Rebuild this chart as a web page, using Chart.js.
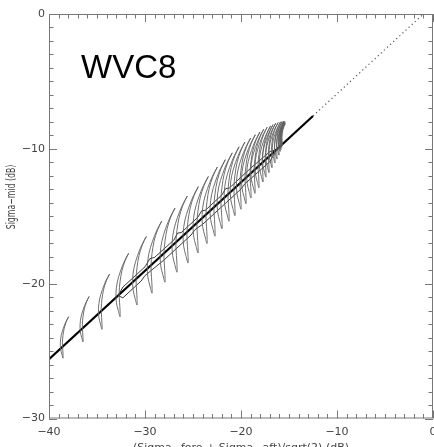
<!DOCTYPE html>
<html>
<head>
<meta charset="UTF-8">
<title>WVC8</title>
<script src="https://cdn.jsdelivr.net/npm/chart.js"></script>
<style>
  html, body { margin: 0; padding: 0; background: #fff; }
  #wrap { width: 434px; height: 447px; }
</style>
</head>
<body>
<div id="wrap"><canvas id="gmf"></canvas></div>
<script>
// axis ranges and tick labels
const xRange = [-40, 0];
const yRange = [-30, 0];
const xTickValues = [-40, -30, -20, -10, 0];
const yTickValues = [-30, -20, -10, 0];

// solid fit line and its dotted continuation (dB)
const fitX = [-40, -12.5];
const fitY = [-25.6, -7.56];
const dotX = [-12.5, -1.0];
const dotY = [-7.56, 0];

// one leaf per wind speed: x of lower tip, y of top tip, y of lower tip (dB)
const leafX = [-38.54, -36.46, -34.48, -32.60, -30.83, -29.27, -27.92, -26.67, -25.52, -24.48,
               -23.54, -22.71, -21.98, -21.25, -20.63, -20.00, -19.48, -18.96, -18.54, -18.13,
               -17.71, -17.40, -17.08, -16.77, -16.46, -16.25, -16.04, -15.92, -15.84, -15.76, -15.70];
const leafTop = [-22.45, -20.95, -19.30, -17.75, -16.50, -15.35, -14.40, -13.50, -12.80, -12.05,
                 -11.35, -10.80, -10.30, -9.85, -9.50, -9.20, -8.95, -8.75, -8.55, -8.40,
                 -8.30, -8.20, -8.10, -8.05, -8.00, -7.98, -7.95, -7.97, -7.98, -8.05, -8.13];
const leafBottom = [-25.53, -24.32, -23.39, -22.45, -21.59, -20.71, -19.89, -19.15, -18.47, -17.72,
                    -17.02, -16.48, -15.93, -15.37, -14.96, -14.48, -14.07, -13.65, -13.30, -12.88,
                    -12.46, -12.10, -11.76, -11.40, -11.05, -10.76, -10.47, -10.19, -10.05, -9.91, -9.76];

// leaf outline: fraction down the leaf, x offset as fraction of leaf height
const shapeT  = [0, 0.12, 0.28, 0.45, 0.62, 0.78, 0.90, 1.0, 0.90, 0.78, 0.62, 0.45, 0.28, 0.12, 0];
const shapeDx = [0.19, 0.10, 0.01, -0.06, -0.09, -0.08, -0.04, 0, 0.0, -0.01, -0.02, 0.0, 0.04, 0.11, 0.19];

// thin inner loop around the fit line
const innerUpX = [-32.8, -32.3, -30.0, -29.5, -29.0, -27.0, -26.6, -26.2, -24.5, -24.1, -23.7, -22.0, -21.6, -21.2, -19.0, -17.0, -16.3];
const innerUpY = [-20.88, -20.25, -18.75, -18.15, -18.05, -16.77, -16.25, -16.20, -15.08, -14.60, -14.55, -13.43, -12.95, -12.90, -11.44, -10.21, -10.05];
const innerLoX = [-32.8, -32.3, -30.4, -30.0, -28.0, -25.2, -24.8, -24.0, -20.0, -19.6, -17.0, -16.3];
const innerLoY = [-20.88, -21.05, -19.80, -19.40, -18.23, -16.39, -16.00, -15.60, -12.98, -12.60, -10.96, -10.05];

const pts = (xs, ys) => xs.map((x, i) => ({ x: x, y: ys[i] }));
const minus = v => (v < 0 ? '\u2212' + Math.abs(v) : String(v));

const datasets = [];
leafX.forEach((lx, i) => {
  const h = leafTop[i] - leafBottom[i];
  datasets.push({
    data: shapeT.map((t, k) => ({ x: lx + shapeDx[k] * h, y: leafTop[i] - t * h })),
    borderColor: '#606060', borderWidth: 0.9, tension: 0.35
  });
});
datasets.push({ data: pts(innerUpX, innerUpY), borderColor: '#222', borderWidth: 0.9 });
datasets.push({ data: pts(innerLoX, innerLoY), borderColor: '#222', borderWidth: 0.9 });
datasets.push({ data: pts(fitX, fitY), borderColor: '#000', borderWidth: 2.2 });
datasets.push({ data: pts(dotX, dotY), borderColor: '#555', borderWidth: 1.2, borderDash: [1.2, 3] });

// IDL style frame with inward ticks on all four sides, plus the texts
const idlFrame = {
  id: 'idlFrame',
  afterDatasetsDraw(chart) {
    const { ctx, chartArea: a, scales } = chart;
    ctx.save();
    ctx.strokeStyle = '#777';
    ctx.lineWidth = 1;
    ctx.strokeRect(a.left + 0.5, a.top + 0.5, a.right - a.left - 1, a.bottom - a.top - 1);
    ctx.beginPath();
    for (let v = xRange[0]; v <= xRange[1]; v++) {
      const px = Math.round(scales.x.getPixelForValue(v)) + 0.5;
      const len = v % 10 === 0 ? 8 : 4.5;
      ctx.moveTo(px, a.bottom); ctx.lineTo(px, a.bottom - len);
      ctx.moveTo(px, a.top); ctx.lineTo(px, a.top + len);
    }
    for (let v = yRange[0]; v <= yRange[1]; v++) {
      const py = Math.round(scales.y.getPixelForValue(v)) + 0.5;
      const len = v % 10 === 0 ? 8 : 4.5;
      ctx.moveTo(a.left, py); ctx.lineTo(a.left + len, py);
      ctx.moveTo(a.right, py); ctx.lineTo(a.right - len, py);
    }
    ctx.stroke();

    ctx.fillStyle = '#000';
    ctx.font = '33px "Liberation Sans", Arial, sans-serif';
    ctx.textBaseline = 'alphabetic';
    ctx.textAlign = 'left';
    ctx.fillText('WVC8', 81, 78);

    ctx.fillStyle = '#444';
    ctx.font = '11px "DejaVu Sans", sans-serif';
    ctx.textAlign = 'center';
    ctx.fillText('(Sigma\u2212fore + Sigma\u2212aft)/sqrt(2) (dB)', 241, 451);
    ctx.font = '12px "DejaVu Sans", sans-serif';
    ctx.translate(15, 197);
    ctx.rotate(-Math.PI / 2);
    ctx.scale(0.65, 1);
    ctx.fillText('Sigma\u2212mid (dB)', 0, 0);
    ctx.restore();
  }
};

new Chart(document.getElementById('gmf'), {
  type: 'scatter',
  data: { datasets: datasets },
  options: {
    responsive: true,
    maintainAspectRatio: false,
    animation: false,
    showLine: true,
    elements: { point: { radius: 0, hoverRadius: 0 } },
    layout: { padding: { top: 14, right: 1, left: 0, bottom: 0 } },
    plugins: { legend: { display: false }, tooltip: { enabled: false } },
    scales: {
      x: {
        type: 'linear', min: xRange[0], max: xRange[1],
        afterFit(s) { s.height = 28.5; s.paddingLeft = 0; s.paddingRight = 0; },
        afterBuildTicks(s) { s.ticks = xTickValues.map(v => ({ value: v })); },
        ticks: { padding: 7, maxRotation: 0, autoSkip: false, color: '#444',
                 font: { family: 'DejaVu Sans', size: 11 }, callback: v => minus(v) },
        grid: { display: false, drawTicks: false },
        border: { display: false }
      },
      y: {
        type: 'linear', min: yRange[0], max: yRange[1],
        afterFit(s) { s.width = 49; s.paddingTop = 0; s.paddingBottom = 0; },
        afterBuildTicks(s) { s.ticks = yTickValues.map(v => ({ value: v })); },
        ticks: { padding: 4, autoSkip: false, color: '#444',
                 font: { family: 'DejaVu Sans', size: 11 }, callback: v => minus(v) },
        grid: { display: false, drawTicks: false },
        border: { display: false }
      }
    }
  },
  plugins: [idlFrame]
});
</script>
</body>
</html>
